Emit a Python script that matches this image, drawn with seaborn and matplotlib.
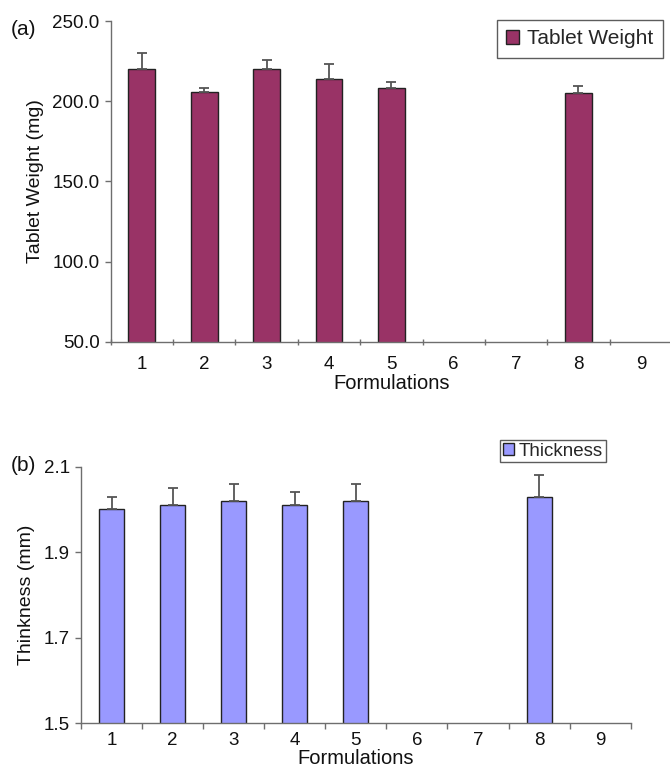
import numpy as np
import pandas as pd
import matplotlib
matplotlib.use("Agg")
import matplotlib.pyplot as plt
import seaborn as sns

# ---- data ----
formulations = ["1", "2", "3", "4", "5", "6", "7", "8", "9"]
present = ["1", "2", "3", "4", "5", "8"]
weight = [220.0, 205.5, 220.0, 214.0, 208.0, 205.3]
weight_err = [10.0, 2.8, 6.0, 9.0, 4.0, 4.0]
thickness = [2.00, 2.01, 2.02, 2.01, 2.02, 2.03]
thickness_err = [0.03, 0.04, 0.04, 0.03, 0.04, 0.05]
weight_ticks = [50.0, 100.0, 150.0, 200.0, 250.0]
thick_ticks = [1.5, 1.7, 1.9, 2.1]

df_w = pd.DataFrame({"Formulation": present, "Weight": weight, "err": weight_err})
df_t = pd.DataFrame({"Formulation": present, "Thickness": thickness, "err": thickness_err})

sns.set_theme(style="white")
plt.rcParams["font.family"] = ["Liberation Sans", "DejaVu Sans"]

fig = plt.figure(figsize=(6.7, 7.7), dpi=100)
ax1 = fig.add_axes([0.1652, 0.5562, 0.8378, 0.4165])
ax2 = fig.add_axes([0.1209, 0.0606, 0.8204, 0.3333])

axis_color = "#6e6e6e"


def draw(ax, df, col, color, width, label, ylim, ticks, ylabel, xpad, lpad, ylpad, inout):
    sns.barplot(data=df, x="Formulation", y=col, order=formulations, color=color,
                width=width, edgecolor="#222222", linewidth=1.0, errorbar=None,
                saturation=1, label=label, ax=ax)
    pos = [formulations.index(f) for f in df["Formulation"]]
    ax.errorbar(pos, df[col], yerr=[np.zeros(len(df)), df["err"]], fmt="none",
                ecolor="#555555", elinewidth=1.3, capsize=3.5, capthick=1.3)
    ax.set_xlim(-0.5, len(formulations) - 0.5)
    ax.set_ylim(*ylim)
    ax.set_yticks(ticks)
    ax.set_yticklabels([f"{t:.1f}" for t in ticks])
    ax.set_xticks(range(len(formulations)))
    ax.set_xticks(np.arange(-0.5, len(formulations) + 0.5, 1.0), minor=True)
    ax.tick_params(axis="x", which="major", length=0, pad=xpad, labelsize=13.5, colors="#111111")
    ax.tick_params(axis="x", which="minor", length=4,
                   direction="inout" if inout else "out", width=1, color=axis_color, bottom=True)
    ax.tick_params(axis="y", which="major", length=4, direction="out", width=1,
                   color=axis_color, labelsize=13.5, labelcolor="#111111", left=True, pad=4)
    for s in ["top", "right"]:
        ax.spines[s].set_visible(False)
    for s in ["left", "bottom"]:
        ax.spines[s].set_color(axis_color)
        ax.spines[s].set_linewidth(1.0)
    ax.set_xlabel("Formulations", fontsize=14.5, labelpad=lpad, color="#111111")
    ax.set_ylabel(ylabel, fontsize=14, color="#111111", labelpad=ylpad)


draw(ax1, df_w, "Weight", "#993366", 0.43, "Tablet Weight", (50, 250), weight_ticks,
     "Tablet Weight (mg)", 10, 1, 6, True)
draw(ax2, df_t, "Thickness", "#9999FF", 0.41, "Thickness", (1.5, 2.1), thick_ticks,
     "Thinkness (mm)", 6, 0, 6, False)

leg1 = ax1.legend(loc="upper left", bbox_to_anchor=(0.688, 1.003), frameon=True, fancybox=False,
                  fontsize=15, handlelength=0.6, handleheight=0.6, handletextpad=0.4,
                  borderpad=0.45, edgecolor="#333333", borderaxespad=0)
leg1.get_frame().set_linewidth(1.0)
leg2 = ax2.legend(loc="upper left", bbox_to_anchor=(0.762, 1.105), frameon=True, fancybox=False,
                  fontsize=13.5, handlelength=0.6, handleheight=0.6, handletextpad=0.25,
                  borderpad=0.15, edgecolor="#333333", borderaxespad=0)
leg2.get_frame().set_linewidth(1.0)

fig.text(0.016, 0.962, "(a)", fontsize=15, color="#111111", va="center")
fig.text(0.016, 0.396, "(b)", fontsize=15, color="#111111", va="center")

fig.savefig("out.png", dpi=100)
